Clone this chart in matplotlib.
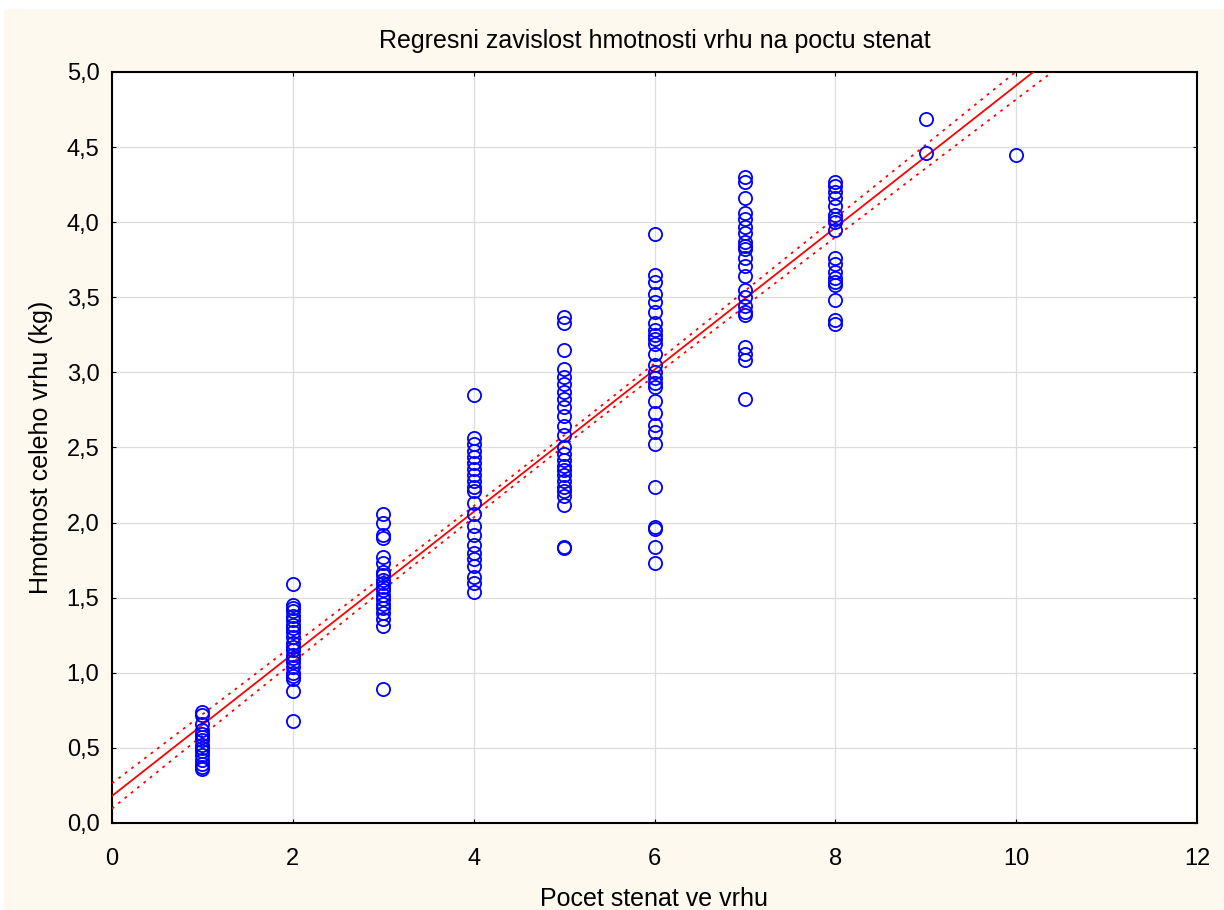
import numpy as np
import matplotlib.pyplot as plt
from matplotlib.patches import Rectangle
from matplotlib.ticker import FuncFormatter

plt.rcParams['font.family'] = ['Liberation Sans', 'DejaVu Sans']

# --- Data: puppies per litter vs litter weight (kg) ---
w1 = [0.74, 0.72, 0.66, 0.62, 0.59, 0.57, 0.55, 0.52, 0.50, 0.48, 0.45, 0.42, 0.39, 0.37, 0.36]
w2 = [1.59, 1.45, 1.43, 1.41, 1.38, 1.35, 1.32, 1.30, 1.27, 1.24, 1.20, 1.17, 1.15,
      1.12, 1.10, 1.07, 1.04, 1.00, 0.98, 0.96, 0.88, 0.68]
w3 = [2.06, 2.00, 1.92, 1.90, 1.77, 1.73, 1.67, 1.65, 1.62, 1.60, 1.57, 1.55, 1.52,
      1.49, 1.46, 1.43, 1.40, 1.36, 1.31, 0.89]
w4 = [2.85, 2.56, 2.52, 2.48, 2.44, 2.40, 2.36, 2.32, 2.28, 2.24, 2.21, 2.13, 2.06,
      1.98, 1.92, 1.85, 1.80, 1.76, 1.71, 1.64, 1.60, 1.54]
w5 = [3.37, 3.33, 3.15, 3.02, 2.97, 2.92, 2.87, 2.82, 2.77, 2.71, 2.64, 2.58, 2.50,
      2.46, 2.42, 2.38, 2.35, 2.32, 2.28, 2.24, 2.21, 2.18, 2.12, 1.84, 1.83]
w6 = [3.92, 3.65, 3.60, 3.52, 3.47, 3.40, 3.33, 3.28, 3.25, 3.22, 3.19, 3.12, 3.05,
      3.00, 2.96, 2.93, 2.90, 2.81, 2.73, 2.65, 2.60, 2.52, 2.24, 1.97, 1.96, 1.84, 1.73]
w7 = [4.30, 4.27, 4.16, 4.06, 4.02, 3.97, 3.93, 3.87, 3.84, 3.82, 3.76, 3.71, 3.64,
      3.55, 3.50, 3.44, 3.40, 3.38, 3.17, 3.12, 3.08, 2.82]
w8 = [4.27, 4.24, 4.20, 4.16, 4.11, 4.05, 4.02, 4.00, 3.95, 3.76, 3.72, 3.67, 3.63,
      3.60, 3.58, 3.48, 3.35, 3.32]
w9 = [4.69, 4.46]
w10 = [4.45]

# many circles overlap in the original, so the real sample is larger (estimate)
n_litters = 440

groups = {1: w1, 2: w2, 3: w3, 4: w4, 5: w5, 6: w6, 7: w7, 8: w8, 9: w9, 10: w10}
x = np.concatenate([[k] * len(v) for k, v in groups.items()]).astype(float)
y = np.concatenate([v for v in groups.values()])

# --- Linear fit and 95% confidence band for the mean ---
slope, intercept = np.polyfit(x, y, 1)
n = len(x)
resid = y - (intercept + slope * x)
s = np.sqrt(np.sum(resid ** 2) / (n - 2))
sxx = np.sum((x - x.mean()) ** 2) * n_litters / n
t_crit = 1.966
xx = np.linspace(0, 12, 300)
yy = intercept + slope * xx
se = s * np.sqrt(1.0 / n_litters + (xx - x.mean()) ** 2 / sxx)

fig = plt.figure(figsize=(12.24, 9.10), dpi=100, facecolor='white')
fig.patches.append(Rectangle((4 / 1224, 0), 1, 1 - 9 / 910, transform=fig.transFigure,
                             facecolor='#FEF9EE', edgecolor='none', zorder=-1))
ax = fig.add_axes([112 / 1224, 1 - 823 / 910, (1197 - 112) / 1224, (823 - 72) / 910])
ax.set_facecolor('white')

ax.plot(xx, yy, color='#FF0000', lw=1.3, zorder=3)
ax.plot(xx, yy + t_crit * se, color='#FF0000', lw=1.3, ls=(0, (1.5, 3)), zorder=3)
ax.plot(xx, yy - t_crit * se, color='#FF0000', lw=1.3, ls=(0, (1.5, 3)), zorder=3)
ax.plot(x, y, 'o', mfc='none', mec='#0000FF', ms=9.5, mew=1.3, zorder=4)

ax.set_xlim(0, 12)
ax.set_ylim(0, 5)
ax.set_xticks(np.arange(0, 13, 2))
ax.set_yticks(np.arange(0, 5.01, 0.5))
ax.yaxis.set_major_formatter(FuncFormatter(lambda v, p: f'{v:.1f}'.replace('.', ',')))
ax.grid(True, color='#DDDDDD', lw=0.9)
ax.set_axisbelow(True)
ax.tick_params(direction='in', length=3, top=True, right=True, labelsize=17)
ax.tick_params(axis='x', pad=18)
ax.tick_params(axis='y', pad=9)
for sp in ax.spines.values():
    sp.set_linewidth(1.5)

ax.set_title('Regresni zavislost hmotnosti vrhu na poctu stenat', fontsize=18, pad=17)
ax.set_xlabel('Pocet stenat ve vrhu', fontsize=18, labelpad=12)
ax.set_ylabel('Hmotnost celeho vrhu (kg)', fontsize=18, labelpad=10)

fig.savefig('out.png', dpi=100, facecolor=fig.get_facecolor())
